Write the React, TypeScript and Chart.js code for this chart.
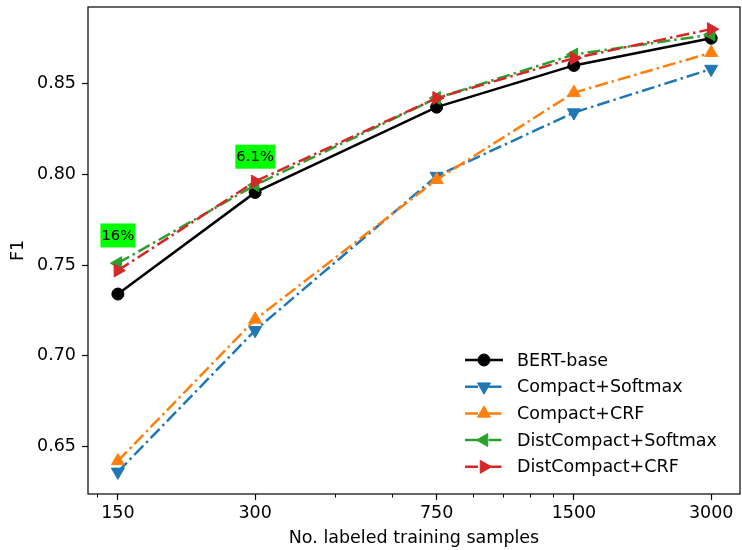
import React, { useEffect, useRef } from 'react';
import { Chart, registerables } from 'chart.js';

Chart.register(...registerables);

// ---- data ----
const xValues = [150, 300, 750, 1500, 3000];
const xTickValues = [150, 300, 750, 1500, 3000];
const xMinorTickValues = [135, 450, 600, 900, 1050, 1200, 1350];
const yTickValues = [0.65, 0.7, 0.75, 0.8, 0.85];

const seriesNames = [
  'BERT-base',
  'Compact+Softmax',
  'Compact+CRF',
  'DistCompact+Softmax',
  'DistCompact+CRF',
];
const bertBase = [0.734, 0.79, 0.837, 0.86, 0.875];
const compactSoftmax = [0.636, 0.714, 0.799, 0.834, 0.858];
const compactCrf = [0.642, 0.72, 0.797, 0.845, 0.867];
const distCompactSoftmax = [0.751, 0.794, 0.842, 0.866, 0.877];
const distCompactCrf = [0.747, 0.796, 0.842, 0.864, 0.88];

const annotationTexts = ['16%', '6.1%'];
const annotationX = [150, 300];
const annotationY = [0.7663, 0.8097];

// ---- styles ----
const FONT = 'DejaVu Sans';
const colors = ['#000000', '#1f77b4', '#ff7f0e', '#2ca02c', '#d62728'];
const markerStyles = ['circle', 'triangle', 'triangle', 'triangle', 'triangle'];
const markerRotations = [0, 180, 0, 270, 90];
const markerRadii = [6, 7.5, 7.5, 7.5, 7.5];
const dashDot = [13, 4, 2.5, 4];
const dashes = [[], dashDot, dashDot, dashDot, dashDot];
const LINE_W = 2.5;

function drawMarker(ctx: CanvasRenderingContext2D, style: string, rotDeg: number, x: number, y: number, r: number, color: string) {
  ctx.save();
  ctx.setLineDash([]);
  ctx.fillStyle = color;
  ctx.strokeStyle = color;
  ctx.lineWidth = 1;
  ctx.beginPath();
  if (style === 'circle') {
    ctx.arc(x, y, r, 0, Math.PI * 2);
  } else {
    let rad = (rotDeg * Math.PI) / 180;
    ctx.moveTo(x + Math.sin(rad) * r, y - Math.cos(rad) * r);
    rad += (2 * Math.PI) / 3;
    ctx.lineTo(x + Math.sin(rad) * r, y - Math.cos(rad) * r);
    rad += (2 * Math.PI) / 3;
    ctx.lineTo(x + Math.sin(rad) * r, y - Math.cos(rad) * r);
    ctx.closePath();
  }
  ctx.fill();
  ctx.stroke();
  ctx.restore();
}

const backgroundPlugin = {
  id: 'bg',
  beforeDraw(chart: any) {
    const ctx = chart.ctx;
    ctx.save();
    ctx.fillStyle = '#ffffff';
    ctx.fillRect(0, 0, chart.width, chart.height);
    ctx.restore();
  },
};

const framePlugin = {
  id: 'frame',
  afterDraw(chart: any) {
    const { ctx, chartArea } = chart;
    const xs = chart.scales.x;
    ctx.save();
    ctx.strokeStyle = '#000';
    ctx.lineWidth = 1;
    xMinorTickValues.forEach((v) => {
      const px = Math.round(xs.getPixelForValue(v)) + 0.5;
      ctx.beginPath();
      ctx.moveTo(px, chartArea.bottom);
      ctx.lineTo(px, chartArea.bottom + 3.5);
      ctx.stroke();
    });
    ctx.lineWidth = 1.2;
    ctx.strokeRect(chartArea.left, chartArea.top, chartArea.right - chartArea.left, chartArea.bottom - chartArea.top);
    ctx.restore();
  },
};

const annotationPlugin = {
  id: 'annot',
  afterDatasetsDraw(chart: any) {
    const { ctx } = chart;
    const xs = chart.scales.x;
    const ys = chart.scales.y;
    ctx.save();
    ctx.font = `14.8px "${FONT}"`;
    ctx.textAlign = 'center';
    ctx.textBaseline = 'middle';
    annotationTexts.forEach((t, i) => {
      const cx = xs.getPixelForValue(annotationX[i]);
      const cy = ys.getPixelForValue(annotationY[i]);
      const w = ctx.measureText(t).width + 2;
      const h = 24;
      ctx.fillStyle = '#00ff00';
      ctx.fillRect(cx - w / 2, cy - h / 2, w, h);
      ctx.fillStyle = '#000';
      ctx.fillText(t, cx, cy + 0.5);
    });
    ctx.restore();
  },
};

const legendPlugin = {
  id: 'customLegend',
  afterDraw(chart: any) {
    const { ctx, chartArea } = chart;
    const textX = chartArea.right - 223;
    const h0 = chartArea.right - 275;
    const h1 = chartArea.right - 237;
    const y0 = chartArea.bottom - 134;
    const rowH = 26.7;
    ctx.save();
    ctx.font = `17.5px "${FONT}"`;
    ctx.textAlign = 'left';
    ctx.textBaseline = 'middle';
    seriesNames.forEach((name, i) => {
      const y = y0 + i * rowH;
      ctx.strokeStyle = colors[i];
      ctx.lineWidth = LINE_W;
      ctx.setLineDash(dashes[i]);
      ctx.beginPath();
      ctx.moveTo(h0, y);
      ctx.lineTo(h1, y);
      ctx.stroke();
      drawMarker(ctx, markerStyles[i], markerRotations[i], (h0 + h1) / 2, y, markerRadii[i], colors[i]);
      ctx.fillStyle = '#000';
      ctx.fillText(name, textX, y + 1);
    });
    ctx.restore();
  },
};

function zeroPad(s: any) {
  s.paddingTop = 0;
  s.paddingBottom = 0;
  s.paddingLeft = 0;
  s.paddingRight = 0;
}

export default function App() {
  const canvasRef = useRef<HTMLCanvasElement | null>(null);

  useEffect(() => {
    document.body.style.margin = '0';
    Chart.defaults.font.family = FONT;
    const allSeries = [bertBase, compactSoftmax, compactCrf, distCompactSoftmax, distCompactCrf];
    const datasets = allSeries.map((arr, i) => ({
      label: seriesNames[i],
      data: xValues.map((x, j) => ({ x, y: arr[j] })),
      borderColor: colors[i],
      backgroundColor: colors[i],
      borderWidth: LINE_W,
      borderDash: dashes[i],
      pointStyle: markerStyles[i] as any,
      rotation: markerRotations[i],
      pointRadius: markerRadii[i],
      pointBorderWidth: 1,
      pointBackgroundColor: colors[i],
      pointBorderColor: colors[i],
      tension: 0,
      fill: false,
      order: 4 - i,
    }));

    const chart = new Chart(canvasRef.current as HTMLCanvasElement, {
      type: 'line',
      data: { datasets },
      options: {
        responsive: false,
        animation: false,
        events: [],
        layout: { autoPadding: false, padding: { top: 7, right: 2, left: 0, bottom: 0 } },
        plugins: { legend: { display: false }, tooltip: { enabled: false } },
        scales: {
          x: {
            type: 'logarithmic',
            min: 129,
            max: 3470,
            afterBuildTicks: (s: any) => {
              s.ticks = xTickValues.map((v) => ({ value: v }));
            },
            afterFit: (s: any) => {
              s.height = 56;
              zeroPad(s);
            },
            ticks: {
              callback: (v: any) => String(v),
              color: '#000',
              font: { size: 17.5, family: FONT },
              padding: 3,
              maxRotation: 0,
              autoSkip: false,
            },
            grid: { display: true, drawOnChartArea: false, drawTicks: true, tickLength: 6, tickColor: '#000', tickWidth: 1.2 },
            border: { display: false },
            title: {
              display: true,
              text: 'No. labeled training samples',
              color: '#000',
              font: { size: 17.5, family: FONT },
              padding: { top: 0, bottom: 1 },
            },
          },
          y: {
            type: 'linear',
            min: 0.6238,
            max: 0.8922,
            afterBuildTicks: (s: any) => {
              s.ticks = yTickValues.map((v) => ({ value: v }));
            },
            afterFit: (s: any) => {
              s.width = 88;
              zeroPad(s);
            },
            ticks: {
              callback: (v: any) => Number(v).toFixed(2),
              color: '#000',
              font: { size: 17.5, family: FONT },
              padding: 6,
            },
            grid: { display: true, drawOnChartArea: false, drawTicks: true, tickLength: 6, tickColor: '#000', tickWidth: 1.2 },
            border: { display: false },
            title: {
              display: true,
              text: 'F1',
              color: '#000',
              font: { size: 17.5, family: FONT },
              padding: { top: 7.5, bottom: 0 },
            },
          },
        },
      },
      plugins: [backgroundPlugin, annotationPlugin, framePlugin, legendPlugin],
    });
    return () => chart.destroy();
  }, []);

  return <canvas ref={canvasRef} width={742} height={550} style={{ display: 'block' }} />;
}
